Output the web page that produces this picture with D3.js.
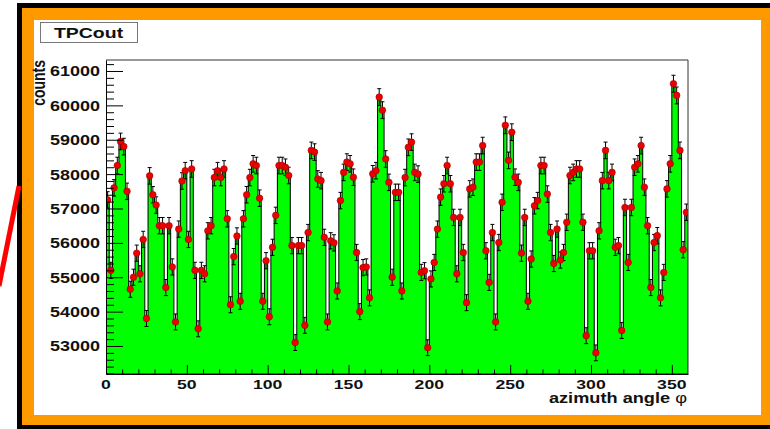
<!DOCTYPE html>
<html>
<head>
<meta charset="utf-8">
<script src="https://cdn.jsdelivr.net/npm/d3@7"></script>
<style>
  body { margin: 0; background: #fff; }
  svg text { font-family: "Liberation Sans", Arial, Helvetica, sans-serif; font-weight: bold; fill: #111; }
</style>
</head>
<body>
<div id="chart"></div>
<script>
// Histogram contents, 2 degree bins (one array per quarter)
const countsQ1 = [
  57250, 55200, 57600, 58250, 58950, 58800, 57500, 54650, 55000, 55700,
  55100, 56100, 53800, 57950, 57400, 57100, 56500, 56500, 54700, 56500,
  55300, 53700, 56400, 57800, 58100, 56100, 58150, 55200, 53500, 55200,
  55100, 56350, 56500, 57900, 58100, 57900, 58150, 56700, 54200, 55600,
  56200, 54300, 56700, 57400, 57900
];
const countsQ2 = [
  58300, 58250, 57300, 54300, 55480, 53850, 55870, 56800, 58250, 58250,
  58200, 57960, 55920, 53100, 55920, 55920, 53600, 56300, 58690, 58640,
  57860, 57810, 56160, 53700, 56060, 56000, 54600, 57230, 58050, 58350,
  58300, 57910, 55720, 54000, 55280, 55300, 54400, 58010, 58100, 60240,
  59860, 58440, 57760, 55000, 57470
];
const countsQ3 = [
  57470, 54600, 57900, 58780, 58930, 58050, 58000, 55140, 55190, 52950,
  54950, 55430, 56400, 57330, 57720, 58250, 57720, 56740, 55100, 56740,
  55720, 54260, 57570, 57620, 58350, 58350, 58830, 55770, 54850, 56300,
  53700, 56010, 57180, 59420, 58400, 59220, 57910, 57760, 55700, 56740,
  54300, 55530, 57080, 57230, 58250
];
const countsQ4 = [
  58250, 57420, 56300, 55400, 56400, 55500, 55720, 56600, 57960, 58050,
  58150, 58150, 56600, 53300, 55770, 55770, 52800, 56350, 57810, 58690,
  57810, 58050, 55870, 55920, 53450, 57030, 55430, 57030, 58200, 58300,
  58830, 57620, 56500, 54700, 56010, 56210, 54400, 55140, 57570, 58300,
  60630, 60290, 58690, 55800, 56890
];
const counts = countsQ1.concat(countsQ2, countsQ3, countsQ4);

const xTicks = [0, 50, 100, 150, 200, 250, 300, 350];
const yTicks = [53000, 54000, 55000, 56000, 57000, 58000, 59000, 60000, 61000];

const W = 770, H = 429;
const plot = { left: 106, right: 688, top: 60, bottom: 374 };
const SX = 1.3; // the original picture is stretched sideways

const x = d3.scaleLinear().domain([0, 360]).range([plot.left, plot.right]);
const y = d3.scaleLinear().domain([52185, 61320]).range([plot.bottom, plot.top]);
const binW = 360 / counts.length;

const svg = d3.select("#chart").append("svg")
  .attr("width", W).attr("height", H);

// Frame: black edge, orange band, white canvas
svg.append("rect").attr("x", 17).attr("y", 3).attr("width", W).attr("height", H)
  .attr("fill", "#000");
svg.append("rect").attr("x", 22).attr("y", 8).attr("width", W).attr("height", 417)
  .attr("fill", "#ff9900");
svg.append("rect").attr("x", 34).attr("y", 20).attr("width", 727).attr("height", 395)
  .attr("fill", "#fff");

// red pointer line on the left
svg.append("line")
  .attr("x1", -1).attr("y1", 286).attr("x2", 19).attr("y2", 186)
  .attr("stroke", "#ff0000").attr("stroke-width", 5);

// plot frame (top and right)
svg.append("path")
  .attr("d", `M${plot.left},${plot.top}H${plot.right}V${plot.bottom}`)
  .attr("fill", "none").attr("stroke", "#333").attr("stroke-width", 1);

svg.append("clipPath").attr("id", "clip")
  .append("rect").attr("x", plot.left).attr("y", plot.top)
  .attr("width", plot.right - plot.left).attr("height", plot.bottom - plot.top);

const g = svg.append("g").attr("clip-path", "url(#clip)");

// Filled histogram
const pts = counts.map((c, i) => [i * binW, c]);
pts.push([360, counts[counts.length - 1]]);
const area = d3.area()
  .x((d) => x(d[0]))
  .y0(plot.bottom)
  .y1((d) => y(d[1]))
  .curve(d3.curveStepAfter);
g.append("path")
  .attr("d", area(pts))
  .attr("fill", "#00ff00")
  .attr("stroke", "#000")
  .attr("stroke-width", 1);

// Error bars
const bars = g.append("g").attr("stroke", "#000").attr("stroke-width", 1);
counts.forEach((c, i) => {
  const cx = x((i + 0.5) * binW);
  const e = Math.sqrt(c);
  const y1 = y(c + e), y2 = y(c - e);
  bars.append("line").attr("x1", cx).attr("x2", cx).attr("y1", y1).attr("y2", y2);
  bars.append("line").attr("x1", cx - 2).attr("x2", cx + 2).attr("y1", y1).attr("y2", y1);
  bars.append("line").attr("x1", cx - 2).attr("x2", cx + 2).attr("y1", y2).attr("y2", y2);
});

// Markers
g.append("g")
  .selectAll("circle")
  .data(counts)
  .join("circle")
  .attr("cx", (d, i) => x((i + 0.5) * binW))
  .attr("cy", (d) => y(d))
  .attr("r", 3.3)
  .attr("fill", "#ee0000")
  .attr("stroke", "#a00000")
  .attr("stroke-width", 0.6);

// Y axis: ticks pointing inward, labels drawn separately
svg.append("g").attr("transform", `translate(${plot.left},0)`)
  .call(d3.axisLeft(y).tickValues(yTicks).tickSizeInner(-17).tickSizeOuter(0).tickFormat(""));
svg.append("g").attr("transform", `translate(${plot.left},0)`)
  .call(d3.axisLeft(y)
    .tickValues(d3.range(52200, 61400, 200).filter((v) => v % 1000 !== 0))
    .tickSizeInner(-8).tickSizeOuter(0).tickFormat(""))
  .select(".domain").remove();

svg.append("g")
  .selectAll("text")
  .data(yTicks)
  .join("text")
  .attr("x", plot.left - 6)
  .attr("y", (d) => y(d))
  .attr("dy", "0.36em")
  .attr("text-anchor", "end")
  .attr("font-size", 15)
  .attr("textLength", 50)
  .attr("lengthAdjust", "spacingAndGlyphs")
  .text((d) => d);

// X axis
svg.append("g").attr("transform", `translate(0,${plot.bottom})`)
  .call(d3.axisBottom(x).tickValues(xTicks).tickSizeInner(-9).tickSizeOuter(0).tickFormat(""));
svg.append("g").attr("transform", `translate(0,${plot.bottom})`)
  .call(d3.axisBottom(x)
    .tickValues(d3.range(10, 360, 10).filter((v) => v % 50 !== 0))
    .tickSizeInner(-4.5).tickSizeOuter(0).tickFormat(""))
  .select(".domain").remove();

svg.append("g")
  .selectAll("text")
  .data(xTicks)
  .join("text")
  .attr("x", (d) => x(d))
  .attr("y", 388.5)
  .attr("text-anchor", "middle")
  .attr("font-size", 13)
  .attr("textLength", (d) => String(d).length * 9.8)
  .attr("lengthAdjust", "spacingAndGlyphs")
  .text((d) => d);

svg.selectAll(".domain").attr("stroke", "#000");
svg.selectAll(".tick line").attr("stroke", "#000");

// Axis titles
svg.append("g").attr("transform", `translate(45,${plot.top}) scale(${SX},1) rotate(-90)`)
  .append("text")
  .attr("text-anchor", "end")
  .attr("font-size", 14)
  .text("counts");

const xt = svg.append("g").attr("transform", `translate(687,403) scale(${SX},1)`)
  .append("text")
  .attr("text-anchor", "end")
  .attr("font-size", 14);
xt.append("tspan").text("azimuth angle ");
xt.append("tspan").attr("font-weight", "normal").text("φ");

// Title box
svg.append("rect")
  .attr("x", 40.5).attr("y", 22.5).attr("width", 97).attr("height", 20)
  .attr("fill", "#fff").attr("stroke", "#777").attr("stroke-width", 1);
svg.append("g").attr("transform", `translate(88.5,37.5) scale(${SX},1)`)
  .append("text")
  .attr("text-anchor", "middle")
  .attr("font-size", 15)
  .text("TPCout");
</script>
</body>
</html>
